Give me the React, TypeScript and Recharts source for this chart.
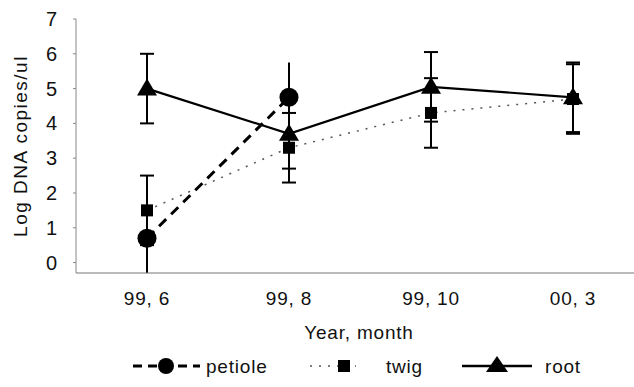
import React from 'react';
import { LineChart, Line, XAxis, YAxis, ErrorBar, Label } from 'recharts';

const categories = ['99, 6', '99, 8', '99, 10', '00, 3'];
const petiole = [0.7, 4.75, null, null];
const petioleErr = [1, 1, null, null];
const twig = [1.5, 3.3, 4.3, 4.7];
const twigErr = [1, 1, 1, 1];
const root = [5.0, 3.7, 5.05, 4.75];
const rootErr = [1, 1, 1, 1];
const yTicks = [0, 1, 2, 3, 4, 5, 6, 7];

const data = categories.map((c, i) => ({
  cat: c,
  petiole: petiole[i],
  petioleErr: petioleErr[i],
  twig: twig[i],
  twigErr: twigErr[i],
  root: root[i],
  rootErr: rootErr[i],
}));

const FONT = '"Liberation Sans", Arial, sans-serif';

const Square = (props: any) => {
  const { cx, cy } = props;
  if (cx == null || cy == null || props.value == null) return null;
  return <rect x={cx - 6} y={cy - 6} width={12} height={12} fill="#000" />;
};
const Tri = (props: any) => {
  const { cx, cy } = props;
  if (cx == null || cy == null || props.value == null) return null;
  return <path d={`M${cx},${cy - 10} L${cx + 10},${cy + 7} L${cx - 10},${cy + 7} Z`} fill="#000" />;
};
const Circ = (props: any) => {
  const { cx, cy } = props;
  if (cx == null || cy == null || props.value == null) return null;
  return <circle cx={cx} cy={cy} r={9.5} fill="#000" />;
};

const LegendBox = () => (
  <svg width={634} height={30} style={{ position: 'absolute', left: 0, top: 351, display: 'block', fontFamily: FONT }}>
    <g>
      <line x1={133} y1={15} x2={200} y2={15} stroke="#000" strokeWidth={3} strokeDasharray="9 6" />
      <circle cx={166} cy={15} r={8} fill="#000" />
      <text x={206} y={22} fontSize={19} letterSpacing={0.8} fill="#111">petiole</text>
    </g>
    <g>
      <line x1={310} y1={15} x2={356} y2={15} stroke="#555" strokeWidth={1.5} strokeDasharray="2 7" />
      <rect x={338} y={9} width={12} height={12} fill="#000" />
      <text x={386} y={22} fontSize={19} letterSpacing={0.8} fill="#111">twig</text>
    </g>
    <g>
      <line x1={462} y1={15} x2={532} y2={15} stroke="#000" strokeWidth={2.5} />
      <path d="M497,5 L508,21 L486,21 Z" fill="#000" />
      <text x={545} y={22} fontSize={19} letterSpacing={0.8} fill="#111">root</text>
    </g>
  </svg>
);

export default function App() {
  return (
    <div style={{ position: 'absolute', left: 0, top: 0, width: 634, height: 387, overflow: 'hidden', background: '#fff' }}>
      <LineChart
        width={660}
        height={387}
        data={data}
        margin={{ top: 19, right: 18, bottom: 24, left: 0 }}
        style={{ fontFamily: FONT }}
      >
        <XAxis
          dataKey="cat"
          padding={{ left: 71, right: 69 }}
          axisLine={{ stroke: '#777', strokeWidth: 1.2 }}
          tickLine={false}
          tick={{ fill: '#111', fontSize: 19, letterSpacing: 0.8 }}
          tickMargin={13}
          height={90}
        >
          <Label value="Year, month" position="insideTop" offset={53} fill="#111" fontSize={19} letterSpacing={0.8} />
        </XAxis>
        <YAxis
          domain={[0, 7]}
          ticks={yTicks}
          type="number"
          width={76}
          axisLine={{ stroke: '#888', strokeWidth: 1 }}
          tickLine={{ stroke: '#888' }}
          tickSize={3}
          tickMargin={16}
          tick={{ fill: '#111', fontSize: 20 }}
        >
          <Label value="Log DNA copies/ul" angle={-90} position="insideLeft" offset={20} fill="#111" fontSize={19} letterSpacing={1.5} style={{ textAnchor: 'middle' }} />
        </YAxis>
        <Line
          dataKey="twig"
          stroke="#555"
          strokeWidth={1.5}
          strokeDasharray="2 7"
          dot={<Square />}
          activeDot={false}
          isAnimationActive={false}
        >
          <ErrorBar dataKey="twigErr" width={7} stroke="#000" strokeWidth={2} />
        </Line>
        <Line
          dataKey="root"
          stroke="#000"
          strokeWidth={2.2}
          dot={<Tri />}
          activeDot={false}
          isAnimationActive={false}
        >
          <ErrorBar dataKey="rootErr" width={7} stroke="#000" strokeWidth={2} />
        </Line>
        <Line
          dataKey="petiole"
          stroke="#000"
          strokeWidth={3}
          strokeDasharray="10 7"
          dot={<Circ />}
          activeDot={false}
          isAnimationActive={false}
        >
          <ErrorBar dataKey="petioleErr" width={0} stroke="#000" strokeWidth={2} />
        </Line>
      </LineChart>
      <LegendBox />
    </div>
  );
}
